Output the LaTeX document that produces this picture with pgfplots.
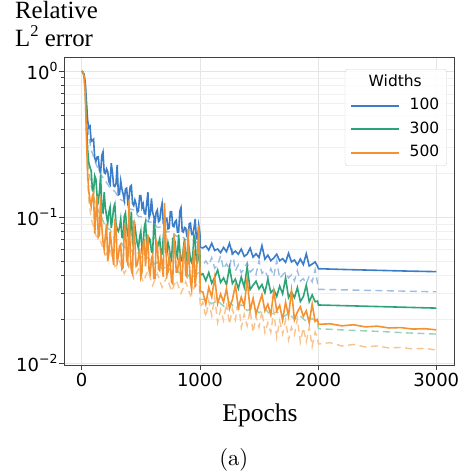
\documentclass[border=0pt]{standalone}
\usepackage{pgfplots}
\pgfplotsset{compat=1.18}
\usepackage{pgfplotstable}
\usepackage{fontspec}
\newfontfamily\dejavu{DejaVu Sans}
\newfontfamily\timesf{Liberation Serif}
\newfontfamily\lmten{lmroman10-regular.otf}

\definecolor{cb}{RGB}{59,125,200}
\definecolor{cg}{RGB}{44,164,120}
\definecolor{co}{RGB}{244,145,48}
\colorlet{cbl}{cb!50!white}
\colorlet{cgl}{cg!50!white}
\colorlet{col}{co!55!white}

% width 100, training error (solid)
\pgfplotstableread[row sep=\\]{x y\\
0 1.0\\ 10 0.985\\ 20 0.95\\ 30 0.84\\ 40 0.62\\ 50 0.46\\ 60 0.41\\ 70 0.42\\ 80 0.330\\ 90 0.336\\ 100 0.342\\
110 0.254\\ 120 0.242\\ 130 0.258\\ 140 0.259\\ 150 0.209\\ 160 0.203\\ 170 0.264\\ 180 0.280\\ 190 0.202\\ 200 0.199\\
210 0.214\\ 220 0.205\\ 230 0.175\\ 240 0.168\\ 250 0.234\\ 260 0.202\\ 270 0.164\\ 280 0.162\\ 290 0.169\\ 300 0.228\\
310 0.142\\ 320 0.144\\ 330 0.177\\ 340 0.156\\ 350 0.144\\ 360 0.130\\ 370 0.156\\ 380 0.158\\ 390 0.126\\ 400 0.135\\
410 0.162\\ 420 0.165\\ 430 0.124\\ 440 0.120\\ 450 0.131\\ 460 0.123\\ 470 0.108\\ 480 0.110\\ 490 0.140\\ 500 0.140\\
510 0.116\\ 520 0.123\\ 530 0.106\\ 540 0.105\\ 550 0.124\\ 560 0.148\\ 570 0.099\\ 580 0.105\\ 590 0.134\\ 600 0.108\\
610 0.101\\ 620 0.0915\\ 630 0.108\\ 640 0.112\\ 650 0.093\\ 660 0.095\\ 670 0.113\\ 680 0.124\\ 690 0.091\\ 700 0.088\\
710 0.097\\ 720 0.098\\ 730 0.083\\ 740 0.084\\ 750 0.109\\ 760 0.109\\ 770 0.087\\ 780 0.086\\ 790 0.093\\ 800 0.095\\
810 0.079\\ 820 0.079\\ 830 0.110\\ 840 0.116\\ 850 0.080\\ 860 0.079\\ 870 0.085\\ 880 0.084\\ 890 0.074\\ 900 0.072\\
910 0.090\\ 920 0.091\\ 930 0.076\\ 940 0.076\\ 950 0.084\\ 960 0.097\\ 970 0.071\\ 980 0.071\\ 990 0.088\\ 1000 0.078\\
1003 0.0620\\
1025 0.0615\\ 1050 0.0635\\ 1075 0.0594\\ 1100 0.0662\\ 1125 0.0591\\ 1150 0.0605\\ 1175 0.0571\\ 1200 0.0620\\
1225 0.0580\\ 1250 0.0662\\ 1275 0.0561\\ 1300 0.0585\\ 1325 0.0557\\ 1350 0.0604\\ 1375 0.0538\\ 1400 0.0557\\
1425 0.0613\\ 1450 0.0532\\ 1475 0.0561\\ 1500 0.0529\\ 1525 0.0637\\ 1550 0.0516\\ 1575 0.0549\\ 1600 0.0503\\
1625 0.0525\\ 1650 0.0557\\ 1675 0.0503\\ 1700 0.0519\\ 1725 0.0490\\ 1750 0.0565\\ 1775 0.0493\\ 1800 0.0509\\
1825 0.0471\\ 1850 0.0516\\ 1875 0.0473\\ 1900 0.0561\\ 1925 0.0462\\ 1950 0.0477\\ 1975 0.0493\\ 1995 0.0461\\
2003 0.0443\\ 2250 0.0437\\ 2500 0.0432\\ 2750 0.0427\\ 3000 0.0423\\
}\bs

% width 100, dashed
\pgfplotstableread[row sep=\\]{x y\\
0 1.0\\ 10 0.98\\ 20 0.94\\ 30 0.80\\ 40 0.58\\ 50 0.42\\ 60 0.36\\ 80 0.29\\ 120 0.232\\ 160 0.196\\
200 0.178\\ 240 0.158\\ 280 0.150\\ 320 0.133\\ 360 0.128\\ 400 0.114\\ 440 0.112\\ 480 0.101\\ 520 0.100\\ 560 0.093\\
600 0.092\\ 640 0.085\\ 680 0.086\\ 720 0.079\\ 760 0.080\\ 800 0.074\\ 840 0.075\\ 880 0.070\\ 920 0.071\\ 960 0.067\\
997 0.068\\ 1003 0.0487\\
1025 0.0469\\ 1050 0.0501\\ 1075 0.0468\\ 1100 0.0528\\ 1125 0.0446\\ 1150 0.0470\\ 1175 0.0543\\ 1200 0.0442\\
1225 0.0479\\ 1250 0.0442\\ 1275 0.0579\\ 1300 0.0429\\ 1325 0.0471\\ 1350 0.0415\\ 1375 0.0444\\ 1400 0.0486\\
1425 0.0419\\ 1450 0.0440\\ 1475 0.0405\\ 1500 0.0502\\ 1525 0.0412\\ 1550 0.0432\\ 1575 0.0387\\ 1600 0.0444\\
1625 0.0393\\ 1650 0.0502\\ 1675 0.0380\\ 1700 0.0401\\ 1725 0.0421\\ 1750 0.0383\\ 1775 0.0403\\ 1800 0.0366\\
1825 0.0430\\ 1850 0.0365\\ 1875 0.0379\\ 1900 0.0349\\ 1925 0.0395\\ 1950 0.0360\\ 1975 0.0437\\ 1995 0.0355\\
2003 0.0320\\ 2250 0.0317\\ 2500 0.0314\\ 2750 0.0311\\ 3000 0.0308\\
}\bd

% width 300, solid
\pgfplotstableread[row sep=\\]{x y\\
0 1.0\\ 10 0.985\\ 20 0.93\\ 30 0.76\\ 40 0.46\\ 50 0.29\\ 60 0.235\\ 70 0.22\\ 80 0.208\\ 90 0.156\\ 100 0.150\\
110 0.192\\ 120 0.182\\ 130 0.139\\ 140 0.129\\ 150 0.149\\ 160 0.195\\ 170 0.109\\ 180 0.107\\ 190 0.148\\ 200 0.116\\
210 0.102\\ 220 0.091\\ 230 0.108\\ 240 0.117\\ 250 0.084\\ 260 0.097\\ 270 0.116\\ 280 0.123\\ 290 0.090\\ 300 0.083\\
310 0.080\\ 320 0.085\\ 330 0.097\\ 340 0.073\\ 350 0.072\\ 360 0.101\\ 370 0.107\\ 380 0.086\\ 390 0.075\\ 400 0.071\\
410 0.082\\ 420 0.109\\ 430 0.067\\ 440 0.071\\ 450 0.087\\ 460 0.075\\ 470 0.066\\ 480 0.061\\ 490 0.073\\ 500 0.080\\
510 0.060\\ 520 0.065\\ 530 0.086\\ 540 0.093\\ 550 0.065\\ 560 0.061\\ 570 0.072\\ 580 0.070\\ 590 0.058\\ 600 0.057\\
610 0.089\\ 620 0.082\\ 630 0.060\\ 640 0.062\\ 650 0.066\\ 660 0.071\\ 670 0.055\\ 680 0.056\\ 690 0.072\\ 700 0.091\\
710 0.058\\ 720 0.056\\ 730 0.067\\ 740 0.062\\ 750 0.054\\ 760 0.051\\ 770 0.071\\ 780 0.070\\ 790 0.068\\ 800 0.056\\
810 0.053\\ 820 0.076\\ 830 0.059\\ 840 0.051\\ 850 0.050\\ 860 0.061\\ 870 0.071\\ 880 0.049\\ 890 0.053\\ 900 0.068\\
910 0.060\\ 920 0.051\\ 930 0.049\\ 940 0.055\\ 950 0.075\\ 960 0.069\\ 970 0.050\\ 980 0.049\\ 990 0.055\\ 1000 0.057\\
1003 0.040\\
1025 0.0409\\ 1050 0.0367\\ 1075 0.0417\\ 1100 0.0353\\ 1125 0.0386\\ 1150 0.0434\\ 1175 0.0357\\ 1200 0.0383\\
1225 0.0344\\ 1250 0.0453\\ 1275 0.0351\\ 1300 0.0376\\ 1325 0.0324\\ 1350 0.0389\\ 1375 0.0331\\ 1400 0.0456\\
1425 0.0319\\ 1450 0.0342\\ 1475 0.0364\\ 1500 0.0322\\ 1525 0.0345\\ 1550 0.0303\\ 1575 0.0376\\ 1600 0.0304\\
1625 0.0319\\ 1650 0.0286\\ 1675 0.0337\\ 1700 0.0298\\ 1725 0.0384\\ 1750 0.0281\\ 1775 0.0307\\ 1800 0.0281\\
1825 0.0329\\ 1850 0.0264\\ 1875 0.0285\\ 1900 0.0342\\ 1925 0.0263\\ 1950 0.0293\\ 1975 0.0263\\ 1995 0.0266\\
2003 0.0250\\ 2250 0.0247\\ 2500 0.0244\\ 2750 0.0241\\ 3000 0.0238\\
}\gs

% width 300, dashed
\pgfplotstableread[row sep=\\]{x y\\
0 1.0\\ 10 0.98\\ 20 0.92\\ 30 0.74\\ 40 0.44\\ 50 0.27\\ 60 0.21\\ 80 0.165\\ 120 0.118\\ 160 0.104\\
200 0.086\\ 240 0.082\\ 280 0.070\\ 320 0.070\\ 360 0.062\\ 400 0.063\\ 440 0.056\\ 480 0.057\\ 520 0.051\\ 560 0.053\\
600 0.047\\ 640 0.049\\ 680 0.044\\ 720 0.046\\ 760 0.042\\ 800 0.044\\ 840 0.040\\ 880 0.042\\ 920 0.038\\ 960 0.040\\
995 0.042\\ 1003 0.0272\\
1050 0.0275\\ 1100 0.0255\\ 1150 0.0268\\ 1200 0.0245\\ 1250 0.0262\\ 1300 0.0238\\ 1350 0.0250\\ 1400 0.0229\\
1450 0.0240\\ 1500 0.0221\\ 1550 0.0236\\ 1600 0.0213\\ 1650 0.0225\\ 1700 0.0207\\ 1750 0.0218\\ 1800 0.0200\\
1850 0.0210\\ 1900 0.0193\\ 1950 0.0202\\ 1995 0.0190\\
2003 0.0172\\ 2250 0.0168\\ 2500 0.0165\\ 2750 0.0161\\ 3000 0.0158\\
}\gd

% width 500, solid
\pgfplotstableread[row sep=\\]{x y\\
0 1.0\\ 10 0.985\\ 20 0.92\\ 30 0.70\\ 40 0.36\\ 50 0.20\\ 60 0.15\\ 70 0.13\\ 80 0.118\\ 90 0.139\\ 100 0.147\\
110 0.077\\ 120 0.106\\ 130 0.140\\ 140 0.073\\ 150 0.076\\ 160 0.138\\ 170 0.085\\ 180 0.068\\ 190 0.060\\ 200 0.074\\
210 0.090\\ 220 0.050\\ 230 0.057\\ 240 0.079\\ 250 0.067\\ 260 0.056\\ 270 0.047\\ 280 0.097\\ 290 0.085\\ 300 0.049\\
310 0.054\\ 320 0.063\\ 330 0.065\\ 340 0.044\\ 350 0.045\\ 360 0.081\\ 370 0.089\\ 380 0.051\\ 390 0.048\\ 400 0.130\\
410 0.058\\ 420 0.043\\ 430 0.041\\ 440 0.095\\ 450 0.068\\ 460 0.046\\ 470 0.047\\ 480 0.053\\ 490 0.061\\ 500 0.039\\
510 0.042\\ 520 0.067\\ 530 0.069\\ 540 0.046\\ 550 0.063\\ 560 0.076\\ 570 0.043\\ 580 0.041\\ 590 0.052\\ 600 0.055\\
610 0.038\\ 620 0.038\\ 630 0.069\\ 640 0.066\\ 650 0.044\\ 660 0.043\\ 670 0.055\\ 680 0.0475\\ 690 0.039\\ 700 0.125\\
710 0.078\\ 720 0.040\\ 730 0.042\\ 740 0.055\\ 750 0.048\\ 760 0.036\\ 770 0.035\\ 780 0.076\\ 790 0.060\\ 800 0.042\\
810 0.042\\ 820 0.050\\ 830 0.054\\ 840 0.036\\ 850 0.036\\ 860 0.060\\ 870 0.065\\ 880 0.040\\ 890 0.039\\ 900 0.083\\
910 0.048\\ 920 0.036\\ 930 0.032\\ 940 0.047\\ 950 0.060\\ 960 0.033\\ 970 0.042\\ 980 0.055\\ 990 0.088\\ 1000 0.048\\
1003 0.031\\
1025 0.0307\\ 1050 0.0254\\ 1075 0.0330\\ 1100 0.0284\\ 1125 0.0386\\ 1150 0.0256\\ 1175 0.0297\\ 1200 0.0262\\
1225 0.0324\\ 1250 0.0236\\ 1275 0.0272\\ 1300 0.0341\\ 1325 0.0239\\ 1350 0.0283\\ 1375 0.0245\\ 1400 0.0378\\
1425 0.0230\\ 1450 0.0278\\ 1475 0.0216\\ 1500 0.0254\\ 1525 0.0294\\ 1550 0.0228\\ 1575 0.0253\\ 1600 0.0214\\
1625 0.0312\\ 1650 0.0228\\ 1675 0.0249\\ 1700 0.0197\\ 1725 0.0261\\ 1750 0.0210\\ 1775 0.0315\\ 1800 0.0198\\
1825 0.0224\\ 1850 0.0243\\ 1875 0.0209\\ 1900 0.0228\\ 1925 0.0189\\ 1950 0.0254\\ 1975 0.0193\\ 1995 0.0199\\
2003 0.0184\\ 2100 0.0186\\ 2200 0.0180\\ 2300 0.0183\\ 2400 0.0177\\ 2500 0.0179\\ 2600 0.0174\\ 2700 0.0175\\
2800 0.0171\\ 2900 0.0172\\ 3000 0.0169\\
}\os

% width 500, dashed
\pgfplotstableread[row sep=\\]{x y\\
0 1.0\\ 10 0.98\\ 20 0.91\\ 30 0.68\\ 40 0.33\\ 50 0.18\\ 60 0.13\\ 80 0.098\\ 120 0.075\\ 160 0.068\\
200 0.055\\ 240 0.060\\ 280 0.046\\ 320 0.050\\ 360 0.041\\ 400 0.048\\ 440 0.038\\ 480 0.044\\ 520 0.036\\ 560 0.043\\
600 0.034\\ 640 0.041\\ 680 0.033\\ 720 0.039\\ 760 0.031\\ 800 0.037\\ 840 0.030\\ 880 0.036\\ 920 0.029\\ 960 0.034\\
995 0.035\\ 1003 0.0240\\
1025 0.0261\\ 1050 0.0206\\ 1075 0.0267\\ 1100 0.0211\\ 1125 0.0283\\ 1150 0.0190\\ 1175 0.0232\\ 1200 0.0196\\
1225 0.0258\\ 1250 0.0185\\ 1275 0.0235\\ 1300 0.0198\\ 1325 0.0267\\ 1350 0.0175\\ 1375 0.0216\\ 1400 0.0180\\
1425 0.0231\\ 1450 0.0162\\ 1475 0.0210\\ 1500 0.0176\\ 1525 0.0228\\ 1550 0.0162\\ 1575 0.0189\\ 1600 0.0162\\
1625 0.0228\\ 1650 0.0150\\ 1675 0.0195\\ 1700 0.0158\\ 1725 0.0197\\ 1750 0.0144\\ 1775 0.0176\\ 1800 0.0156\\
1825 0.0201\\ 1850 0.0139\\ 1875 0.0174\\ 1900 0.0140\\ 1925 0.0176\\ 1950 0.0130\\ 1975 0.0163\\ 1995 0.0149\\
2003 0.0135\\ 2100 0.0138\\ 2200 0.0131\\ 2300 0.0134\\ 2400 0.0129\\ 2500 0.0131\\ 2600 0.0127\\ 2700 0.0128\\
2800 0.0125\\ 2900 0.0126\\ 3000 0.0123\\
}\od

\begin{document}
\begin{tikzpicture}
\useasboundingbox (-64pt,-110pt) rectangle (403pt,365pt);
\begin{axis}[
  at={(0pt,0pt)}, anchor=south west,
  scale only axis, width=390pt, height=308pt,
  ymode=log,
  xmin=-150, xmax=3150, ymin=0.0097, ymax=1.25,
  xtick={0,1000,2000,3000}, xticklabels={0,1000,2000,3000},
  ytick={0.01,0.1,1},
  yticklabels={10\raisebox{0.42em}{\fontsize{12.5}{12}\selectfont −2},
               10\raisebox{0.42em}{\fontsize{12.5}{12}\selectfont −1},
               10\raisebox{0.42em}{\fontsize{12.5}{12}\selectfont 0}},
  ticklabel style={font=\dejavu\fontsize{18}{18}\selectfont},
  yticklabel style={xshift=2pt},
  grid=both,
  major grid style={black!10, line width=0.6pt},
  minor grid style={black!6, line width=0.5pt},
  axis line style={black!75, line width=0.8pt},
  tick align=outside, xtick pos=bottom, ytick pos=left,
  major tick length=5pt, minor tick length=3pt,
  tick style={black!75, line width=0.7pt},
  legend image code/.code={\draw[#1, line width=2.2pt] (0pt,0pt) -- (48pt,0pt);},
  legend cell align=left,
  legend style={at={(0.982,0.961)}, anchor=north east,
    font=\dejavu\fontsize{15.5}{15.5}\selectfont,
    draw=black!18, fill=white, fill opacity=0.85, text opacity=1, draw opacity=1,
    rounded corners=3pt, inner xsep=5pt, inner ysep=3pt,
    row sep=3.5pt, column sep=7pt,
    nodes={inner sep=2.5pt, text height=11.5pt, text depth=3.5pt}},
]
\addplot[cbl, line width=1.4pt, dash pattern=on 7pt off 4.5pt, forget plot] table {\bd};
\addplot[cgl, line width=1.4pt, dash pattern=on 7pt off 4.5pt, forget plot] table {\gd};
\addplot[col, line width=1.4pt, dash pattern=on 7pt off 4.5pt, forget plot] table {\od};
\addplot[cb, line width=1.6pt, forget plot] table {\bs};
\addplot[cg, line width=1.6pt, forget plot] table {\gs};
\addplot[co, line width=1.6pt, forget plot] table {\os};

\addlegendimage{empty legend}
\addlegendentry{\makebox[0pt][l]{\hspace{-41pt}Widths}}
\addlegendimage{cb}
\addlegendentry{100\hspace{4pt}}
\addlegendimage{cg}
\addlegendentry{300\hspace{4pt}}
\addlegendimage{co}
\addlegendentry{500\hspace{4pt}}
\end{axis}
\node[anchor=north west, align=left, font=\timesf\fontsize{24.8}{27.8}\selectfont, inner sep=0pt]
  at (-49pt,363.6pt) {Relative\\L\raisebox{0.42em}{\fontsize{16.5}{16.5}\selectfont 2} error};
\node[anchor=base, font=\timesf\fontsize{25.5}{25.5}\selectfont, inner sep=0pt] at (196pt,-56.7pt) {Epochs};
\node[anchor=base, font=\lmten\fontsize{22.7}{22.7}\selectfont, inner sep=0pt] at (169.8pt,-100pt) {(a)};
\end{tikzpicture}
\end{document}
